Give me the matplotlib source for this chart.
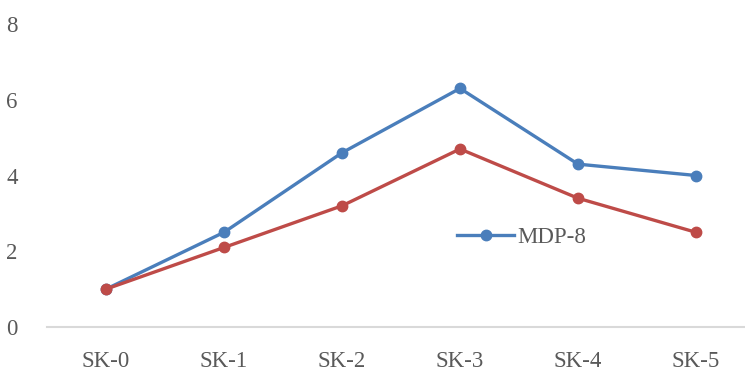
import matplotlib.pyplot as plt

categories = ['SK-0', 'SK-1', 'SK-2', 'SK-3', 'SK-4', 'SK-5']
mdp8 = [1.0, 2.5, 4.6, 6.3, 4.3, 4.0]
other = [1.0, 2.1, 3.2, 4.7, 3.4, 2.5]
yticks = [0, 2, 4, 6, 8]

plt.rcParams['font.family'] = ['Liberation Serif', 'DejaVu Serif']

fig = plt.figure(figsize=(7.45, 3.74), dpi=100)
ax = fig.add_axes([47 / 745, 47 / 374, 708 / 745, 303 / 374])

x = list(range(len(categories)))
ax.plot(x, mdp8, color='#4a7ebb', lw=2.4, marker='o', ms=7.5, label='MDP-8', zorder=3)
ax.plot(x, other, color='#be4b48', lw=2.4, marker='o', ms=7.5, zorder=3)

ax.set_xlim(-0.5, 5.5)
ax.set_ylim(0, 8)
ax.set_xticks(x)
ax.set_xticklabels(categories)
ax.set_yticks(yticks)
ax.tick_params(length=0, labelsize=16.5, colors='#595959')
ax.tick_params(axis='x', pad=17)
ax.tick_params(axis='y', pad=21)
for s in ['top', 'right', 'left']:
    ax.spines[s].set_visible(False)
ax.spines['bottom'].set_color('#d9d9d9')
ax.spines['bottom'].set_linewidth(1.5)

leg = ax.legend(loc='center left', bbox_to_anchor=(0.55, 0.295), frameon=False,
                fontsize=16.5, handlelength=2.5, handletextpad=0.15, labelcolor='#595959')

fig.savefig('out.png', dpi=100)
